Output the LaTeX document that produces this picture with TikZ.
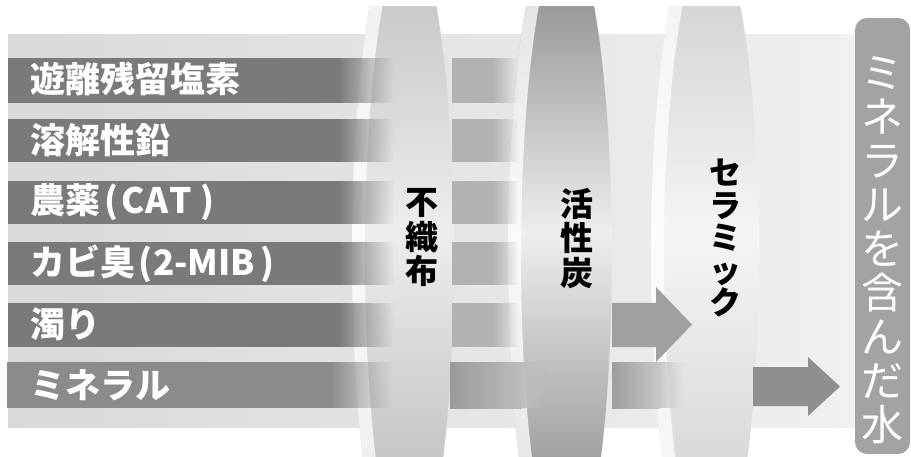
\documentclass[tikz,border=0pt]{standalone}
\usepackage{fontspec}
\setmainfont{Noto Sans CJK JP}
\usetikzlibrary{fadings}
\definecolor{bandL}{HTML}{D9D9D9}
\definecolor{bandR}{HTML}{F0F0F0}
\definecolor{stripeA}{HTML}{7A7A7A}
\definecolor{stripeB}{HTML}{B2B2B2}
\definecolor{mineralA}{HTML}{8B8B8B}
\definecolor{mineralB}{HTML}{9A9A9A}
\definecolor{mineralBr}{HTML}{BDBDBD}
\definecolor{mineralC}{HTML}{9E9E9E}
\definecolor{mineralCr}{HTML}{C8C8C8}
\definecolor{arrowT}{HTML}{A0A0A0}
\definecolor{arrowM}{HTML}{8F8F8F}
\definecolor{boxgray}{HTML}{A3A3A3}
\definecolor{fat}{HTML}{CACACA}
\definecolor{fam}{HTML}{EDEDED}
\definecolor{fab}{HTML}{C6C6C6}
\definecolor{fbt}{HTML}{9A9A9A}
\definecolor{fbm}{HTML}{EEEEEE}
\definecolor{fbb}{HTML}{A2A2A2}
\definecolor{fct}{HTML}{D6D6D6}
\definecolor{fcm}{HTML}{F5F5F5}
\definecolor{fcb}{HTML}{DADADA}
\newcommand\fdisc[5]{%
  \begin{scope}
    \clip (#1-#2-2,7) rectangle (#1+#2+2,457);
    \clip (#1,255) ellipse [x radius=#2, y radius=330];
    \shade[top color=#3, bottom color=#5, middle color=#4] (#1-#2-2,7) rectangle (#1+#2+2,457);
    \fill[white, fill opacity=0.75, even odd rule] (#1,255) ellipse [x radius=#2, y radius=330] (#1+13,255) ellipse [x radius=#2, y radius=330];
  \end{scope}}
\tikzset{
  lbl/.style={anchor=west, inner sep=0pt, text=white, font=\fontsize{35}{40}\selectfont\bfseries},
  ftxt/.style={inner sep=0pt, align=center, text=black, font=\fontsize{33}{34.5}\selectfont\bfseries},
  ctxt/.style={inner sep=0pt, align=center, text=black, font=\fontsize{32}{32.5}\selectfont\bfseries},
  otxt/.style={inner sep=0pt, align=center, text=white, font=\fontsize{42}{44}\selectfont},
  obox/.style={fill=boxgray, rounded corners=12pt, minimum width=55pt, minimum height=436pt, inner sep=0pt}
}
\begin{document}
\begin{tikzpicture}[x=1pt,y=-1pt]
\useasboundingbox (0,0) rectangle (911,457);
\fill[white] (0,0) rectangle (911,457);
% background band
\shade[left color=bandL, right color=bandR] (8,35) rectangle (855,427);
% filters
\fdisc{403}{51}{fat}{fam}{fab}
\fdisc{560}{52}{fbt}{fbm}{fbb}
\fdisc{705}{54}{fct}{fcm}{fcb}
% stripes
\foreach \t/\b in {58/103,119/162,181/224,242/285,303/347}{
  \fill[stripeA] (8,\t) rectangle (338,\b);
  \fill[stripeA, path fading=east] (338,\t) rectangle (394,\b);
  \fill[stripeB] (452,\t) rectangle (492,\b);
  \fill[stripeB, path fading=east] (492,\t) rectangle (518,\b);
}
% mineral stripe
\fill[mineralA] (7,362) rectangle (330,408);
\fill[mineralA, path fading=east] (330,362) rectangle (392,408);
\shade[left color=mineralB, right color=mineralBr] (450,362) rectangle (522,408);
\fill[mineralBr, path fading=east] (522,362) rectangle (548,408);
\shade[left color=mineralC, right color=mineralCr] (612,362) rectangle (660,408);
\fill[mineralCr, path fading=east] (660,362) rectangle (684,408);
% arrows
\fill[arrowT] (612,303) -- (656,303) -- (656,287) -- (692,324.5) -- (656,362) -- (656,347) -- (612,347) -- cycle;
\fill[arrowM] (753,367) -- (808,367) -- (808,357) -- (840,386.5) -- (808,416) -- (808,406) -- (753,406) -- cycle;
% labels
\node[lbl] (l1) at (30,79) {遊離残留塩素};
\node[lbl] (l2) at (30,140) {溶解性鉛};
\node[lbl] (l3) at (30,202.5) {農薬\hspace{4pt}(\hspace{3pt}C\hspace{1pt}A\hspace{1pt}T\hspace{8pt})};
\node[lbl] (l4) at (30,263.5) {カビ臭\hspace{3pt}(\hspace{1pt}2-MIB\hspace{5pt})};
\node[lbl] (l5) at (30,324) {濁り};
\node[lbl] (l6) at (30,385) {ミネラル};
% filter names
\node[ftxt] (f1) at (422,238) {不\\織\\布};
\node[ftxt] (f2) at (577,238) {活\\性\\炭};
\node[ctxt] (f3) at (725,238) {セ\\ラ\\ミ\\ッ\\ク};
% output box
\node[obox] (obox) at (882.5,236) {};
\node[otxt] (otxt) at (882.5,250) {ミ\\ネ\\ラ\\ル\\を\\含\\ん\\だ\\水};
\end{tikzpicture}
\end{document}
